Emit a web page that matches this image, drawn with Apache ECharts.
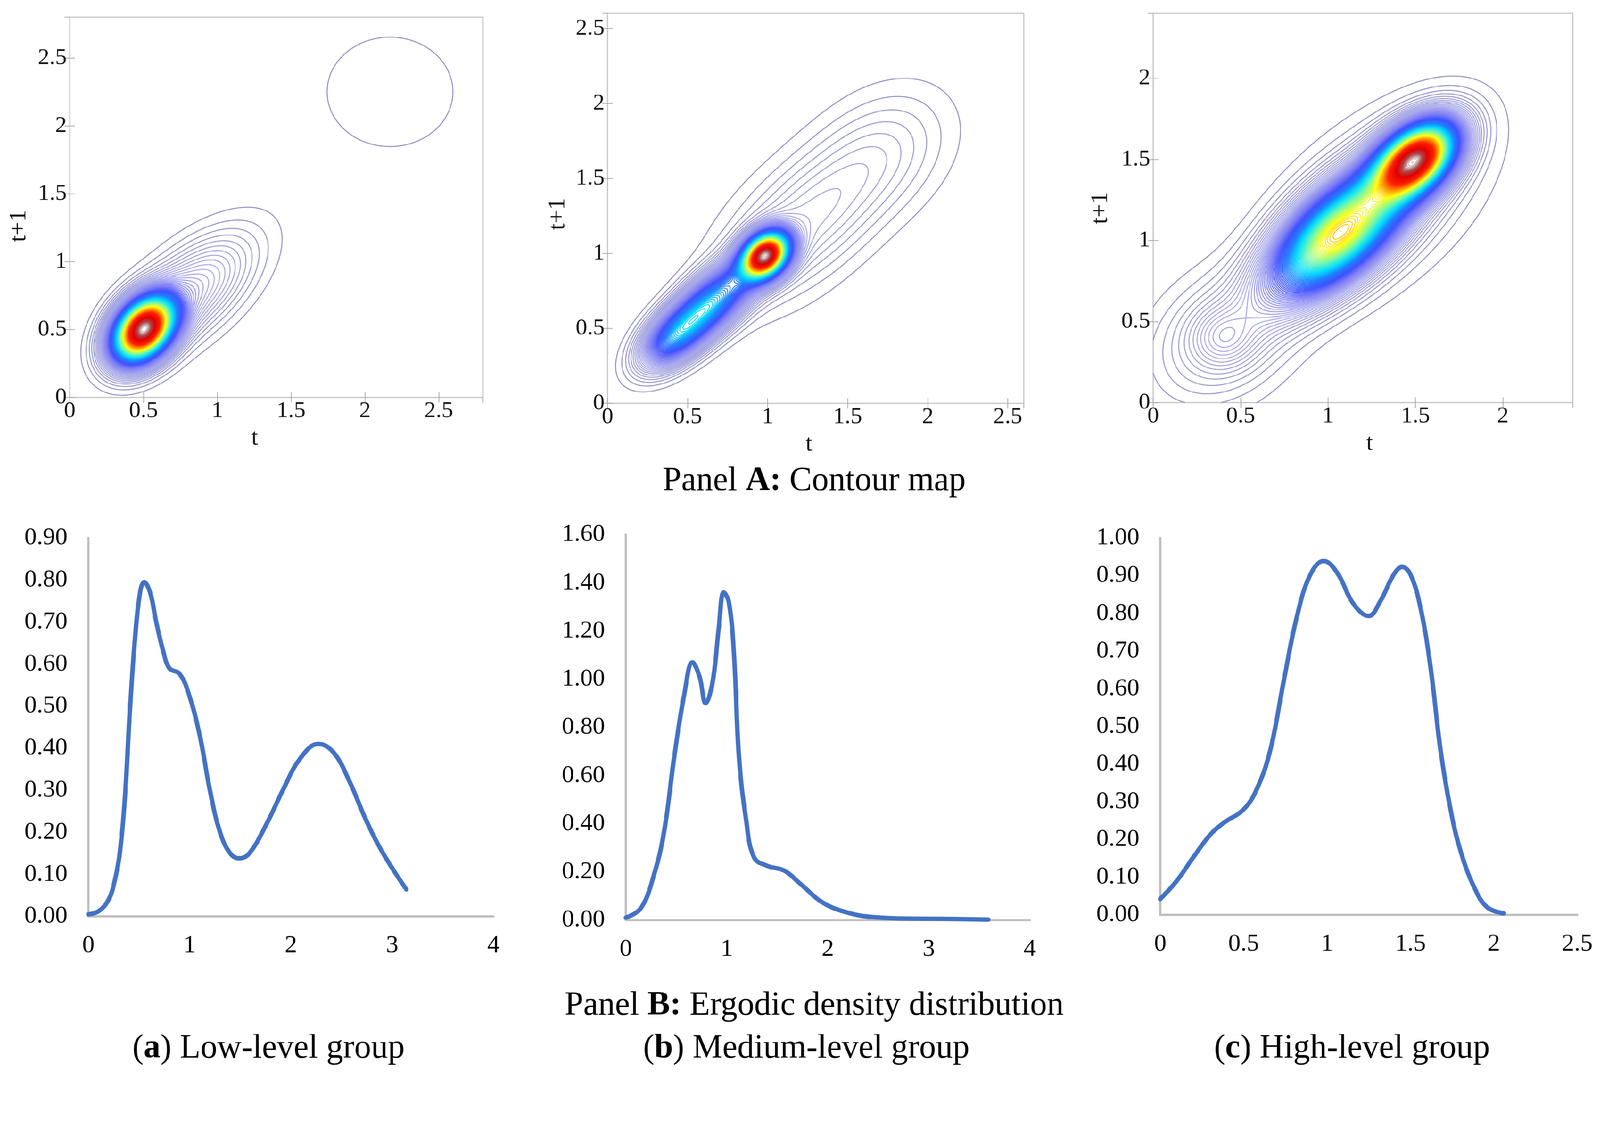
<!DOCTYPE html>
<html><head><meta charset="utf-8">
<script src="https://cdn.jsdelivr.net/npm/echarts@6/dist/echarts.min.js"></script>
<style>html,body{margin:0;padding:0;background:#fff;overflow:hidden}#c{width:4290px;height:2894px;transform-origin:0 0}</style>
</head><body><div id="c"></div>
<script>
// ---------- Panel B: ergodic density curves ----------
const lowX  = [0, 0.1, 0.2, 0.26, 0.31, 0.36, 0.41, 0.46, 0.51, 0.55, 0.61, 0.67, 0.74, 0.8, 0.9, 0.99, 1.1, 1.2, 1.3, 1.4, 1.49, 1.59, 1.76, 1.92, 2.09, 2.27, 2.42, 2.58, 2.74, 2.91, 3.14];
const lowY  = [0.005, 0.012, 0.04, 0.085, 0.15, 0.28, 0.49, 0.66, 0.77, 0.795, 0.77, 0.70, 0.63, 0.59, 0.577, 0.53, 0.43, 0.30, 0.20, 0.15, 0.138, 0.15, 0.22, 0.30, 0.375, 0.41, 0.39, 0.32, 0.23, 0.15, 0.064];
const medX  = [0, 0.15, 0.28, 0.38, 0.48, 0.58, 0.66, 0.73, 0.79, 0.86, 0.92, 0.97, 1.02, 1.07, 1.12, 1.19, 1.27, 1.4, 1.57, 1.73, 1.96, 2.23, 2.46, 2.79, 3.12, 3.59];
const medY  = [0.01, 0.05, 0.19, 0.37, 0.68, 0.94, 1.07, 1.01, 0.90, 0.99, 1.21, 1.36, 1.32, 1.11, 0.68, 0.42, 0.26, 0.225, 0.205, 0.15, 0.07, 0.027, 0.012, 0.006, 0.005, 0.002];
const highX = [0, 0.10, 0.20, 0.30, 0.38, 0.50, 0.58, 0.66, 0.74, 0.82, 0.90, 0.98, 1.06, 1.16, 1.25, 1.32, 1.40, 1.45, 1.50, 1.56, 1.62, 1.68, 1.74, 1.80, 1.88, 1.96, 2.06];
const highY = [0.042, 0.091, 0.154, 0.213, 0.244, 0.28, 0.335, 0.438, 0.62, 0.793, 0.903, 0.939, 0.908, 0.824, 0.793, 0.833, 0.903, 0.923, 0.903, 0.815, 0.658, 0.438, 0.28, 0.17, 0.075, 0.02, 0.004];

// axis extents / ticks of panel B
const lowYMax = 0.9,  lowYStep = 0.1,  lowXMax = 4, lowXStep = 1;
const medYMax = 1.6,  medYStep = 0.2,  medXMax = 4, medXStep = 1;
const highYMax = 1.0, highYStep = 0.1, highXMax = 2.5, highXStep = 0.5;

// ---------- Panel A: density surface components read from the contour maps ----------
// each: [meanX, meanY, sdX, sdY, correlation, peakHeight]
const lowComponents = [
  [0.50, 0.50, 0.135, 0.155, 0.35, 1.00],
  [0.82, 0.78, 0.27, 0.27, 0.60, 0.13],
  [2.17, 2.25, 0.55, 0.52, 0.00, 0.0135]
];
const medComponents = [
  [0.985, 0.985, 0.095, 0.10, 0.30, 1.00],
  [0.63, 0.65, 0.19, 0.19, 0.72, 0.42],
  [0.40, 0.43, 0.13, 0.13, 0.50, 0.22],
  [1.22, 1.20, 0.335, 0.335, 0.57, 0.08],
  [1.72, 1.68, 0.28, 0.28, 0.30, 0.04]
];
const highComponents = [
  [1.50, 1.50, 0.15, 0.15, 0.45, 1.00],
  [1.06, 1.04, 0.25, 0.25, 0.64, 0.70],
  [1.30, 1.25, 0.367, 0.367, 0.50, 0.06],
  [0.40, 0.40, 0.12, 0.12, 0.00, 0.06],
  [0.40, 0.40, 0.26, 0.26, 0.30, 0.07]
];
const contourExtent = [2.8, 2.6, 2.4];   // axis max of the three maps
const contourStep = [0.01, 0.01, 0.01];  // contour level spacing
const contourTick = 0.5;

// ---------- colour map for contour levels ----------
const cmapStops = [
  [0.00, '#8a8ac0'], [0.10, '#a8a8ec'], [0.18, '#8080f4'], [0.25, '#4050ff'],
  [0.33, '#2080ff'], [0.41, '#00dcff'], [0.50, '#70f8b0'], [0.60, '#ffff10'],
  [0.68, '#ff9400'], [0.76, '#ff2000'], [0.88, '#e00000'], [0.95, '#a84848'], [1.00, '#d8cccc']
];
function hex2rgb(h){return [parseInt(h.substr(1,2),16),parseInt(h.substr(3,2),16),parseInt(h.substr(5,2),16)];}
function cmap(t){
  t = Math.max(0, Math.min(1, t));
  for (let k = 1; k < cmapStops.length; k++) {
    if (t <= cmapStops[k][0]) {
      const a = cmapStops[k-1], b = cmapStops[k];
      const u = (t - a[0]) / (b[0] - a[0]);
      const ca = hex2rgb(a[1]), cb = hex2rgb(b[1]);
      return 'rgb(' + ca.map((v,i)=>Math.round(v + (cb[i]-v)*u)).join(',') + ')';
    }
  }
  return cmapStops[cmapStops.length-1][1];
}

function density(comps, x, y) {
  let s = 0;
  for (const c of comps) {
    const dx = (x - c[0]) / c[2], dy = (y - c[1]) / c[3], r = c[4];
    const q = (dx*dx - 2*r*dx*dy + dy*dy) / (1 - r*r);
    s += c[5] * Math.exp(-0.5 * q);
  }
  return s;
}

// marching squares -> chained polylines
function contourLines(comps, extent, step, n) {
  const W = n + 1, d = extent / n;
  const f = new Float64Array(W * W);
  let fmax = 0;
  for (let j = 0; j <= n; j++) for (let i = 0; i <= n; i++) {
    const v = density(comps, i * d, j * d);
    f[j*W+i] = v; if (v > fmax) fmax = v;
  }
  const out = [];
  for (let L = step; L < fmax; L += step) {
    const pts = new Map(), adj = new Map();
    const pt = (key) => {
      if (pts.has(key)) return;
      const base = key >> 1, i = base % W, j = (base - i) / W;
      if ((key & 1) === 0) {
        const a = f[j*W+i], b = f[j*W+i+1];
        pts.set(key, [(i + (L-a)/(b-a)) * d, j * d]);
      } else {
        const a = f[j*W+i], b = f[(j+1)*W+i];
        pts.set(key, [i * d, (j + (L-a)/(b-a)) * d]);
      }
    };
    const seg = (e1, e2) => {
      pt(e1); pt(e2);
      if (!adj.has(e1)) adj.set(e1, []); if (!adj.has(e2)) adj.set(e2, []);
      adj.get(e1).push(e2); adj.get(e2).push(e1);
    };
    for (let j = 0; j < n; j++) for (let i = 0; i < n; i++) {
      const a = f[j*W+i], b = f[j*W+i+1], c = f[(j+1)*W+i+1], dd = f[(j+1)*W+i];
      const code = (a>=L?1:0) | (b>=L?2:0) | (c>=L?4:0) | (dd>=L?8:0);
      if (code === 0 || code === 15) continue;
      const B = (j*W+i)*2, T = ((j+1)*W+i)*2, Lf = (j*W+i)*2+1, R = (j*W+i+1)*2+1;
      switch (code) {
        case 1: case 14: seg(B, Lf); break;
        case 2: case 13: seg(B, R); break;
        case 3: case 12: seg(Lf, R); break;
        case 4: case 11: seg(R, T); break;
        case 6: case 9: seg(B, T); break;
        case 7: case 8: seg(Lf, T); break;
        case 5: { const m = (a+b+c+dd)/4;
          if (m >= L) { seg(B, R); seg(Lf, T); } else { seg(Lf, B); seg(T, R); } break; }
        case 10: { const m = (a+b+c+dd)/4;
          if (m >= L) { seg(Lf, B); seg(T, R); } else { seg(B, R); seg(Lf, T); } break; }
      }
    }
    const visited = new Set();
    const walk = (start) => {
      const line = [pts.get(start)]; visited.add(start);
      let cur = start;
      for (;;) {
        const nb = adj.get(cur); let next = null;
        for (const k of nb) if (!visited.has(k)) { next = k; break; }
        if (next === null) { if (nb.includes(start) && line.length > 2) line.push(pts.get(start)); break; }
        visited.add(next); line.push(pts.get(next)); cur = next;
      }
      return line;
    };
    const color = cmap(L / fmax);
    for (const [k, nb] of adj) if (nb.length === 1 && !visited.has(k)) out.push({coords: walk(k), lineStyle: {color}});
    for (const [k] of adj) if (!visited.has(k)) out.push({coords: walk(k), lineStyle: {color}});
  }
  return out;
}

// fit the 4290x2894 design into the actual viewport
const el = document.getElementById('c');
const fit = Math.min(window.innerWidth / 4290, window.innerHeight / 2894);
if (fit > 0 && Math.abs(fit - 1) > 0.002) el.style.transform = 'scale(' + fit + ')';

const chart = echarts.init(el, null, {renderer: 'canvas'});
const serif = '"Liberation Serif", "Times New Roman", serif';

const contourGrids = [
  {left: 187,  top: 46, width: 1108, height: 1020},
  {left: 1629, top: 36, width: 1116, height: 1046},
  {left: 3092, top: 36, width: 1125, height: 1044}
];
const curveGrids = [
  {left: 237,  top: 1443, width: 1086, height: 1015},
  {left: 1678, top: 1434, width: 1083, height: 1034},
  {left: 3111, top: 1443, width: 1118, height: 1011}
];
const yNameGap = [104, 101, 109];
const yNamePad = [[0, 100, 0, 0], [0, 30, 0, 0], [0, 0, 0, 0]];
const xNamePad = [[0, 116, 0, 0], [0, 36, 0, 0], [0, 0, 0, 36]];

const grid = [], xAxis = [], yAxis = [], series = [];
const halfFmt = v => (Math.abs(v / contourTick - Math.round(v / contourTick)) < 1e-6 ? String(+v.toFixed(2)) : '');
const compsAll = [lowComponents, medComponents, highComponents];
for (let p = 0; p < 3; p++) {
  grid.push(Object.assign({show: true, borderColor: '#c4c4c4', borderWidth: 3, backgroundColor: 'transparent'}, contourGrids[p]));
  const ext = contourExtent[p];
  const tick = {show: true, inside: true, length: 14, lineStyle: {color: '#a8a8a8', width: 2}};
  xAxis.push({gridIndex: p, type: 'value', min: 0, max: ext, interval: contourTick, position: 'bottom',
    axisLine: {show: false}, axisTick: tick, splitLine: {show: false},
    axisLabel: {fontFamily: serif, fontSize: 62, color: '#111', margin: 6, formatter: halfFmt, showMaxLabel: false},
    name: 't', nameLocation: 'middle', nameGap: 78,
    nameTextStyle: {fontFamily: serif, fontSize: 64, color: '#111', padding: xNamePad[p]}});
  xAxis.push({gridIndex: p, type: 'value', min: 0, max: ext, interval: contourTick, position: 'top',
    axisLine: {show: false}, axisTick: tick, splitLine: {show: false}, axisLabel: {show: false}});
  yAxis.push({gridIndex: p, type: 'value', min: 0, max: ext, interval: contourTick, position: 'left',
    axisLine: {show: false}, axisTick: tick, splitLine: {show: false},
    axisLabel: {fontFamily: serif, fontSize: 62, color: '#111', margin: 8, formatter: halfFmt, showMaxLabel: false},
    name: 't+1', nameLocation: 'middle', nameGap: yNameGap[p],
    nameTextStyle: {fontFamily: serif, fontSize: 64, color: '#111', padding: yNamePad[p]}});
  yAxis.push({gridIndex: p, type: 'value', min: 0, max: ext, interval: contourTick, position: 'right',
    axisLine: {show: false}, axisTick: tick, splitLine: {show: false}, axisLabel: {show: false}});
  series.push({
    type: 'lines', coordinateSystem: 'cartesian2d', xAxisIndex: 2*p, yAxisIndex: 2*p, polyline: true,
    silent: true, animation: false, large: false, progressive: 0, progressiveThreshold: 1e9,
    lineStyle: {width: 2.6, opacity: 1}, clip: true,
    data: contourLines(compsAll[p], ext, contourStep[p], 380)
  });
}

const curveSets = [
  {x: lowX, y: lowY, xMax: lowXMax, xStep: lowXStep, yMax: lowYMax, yStep: lowYStep},
  {x: medX, y: medY, xMax: medXMax, xStep: medXStep, yMax: medYMax, yStep: medYStep},
  {x: highX, y: highY, xMax: highXMax, xStep: highXStep, yMax: highYMax, yStep: highYStep}
];
for (let p = 0; p < 3; p++) {
  const g = 3 + p, cs = curveSets[p];
  grid.push(Object.assign({show: false}, curveGrids[p]));
  xAxis.push({gridIndex: g, type: 'value', min: 0, max: cs.xMax, interval: cs.xStep,
    axisLine: {show: true, onZero: false, lineStyle: {color: '#bfbfbf', width: 6}}, axisTick: {show: false}, splitLine: {show: false},
    axisLabel: {fontFamily: serif, fontSize: 66, color: '#000', margin: 46, formatter: v => String(+v.toFixed(2))}});
  yAxis.push({gridIndex: g, type: 'value', min: 0, max: cs.yMax, interval: cs.yStep,
    axisLine: {show: true, lineStyle: {color: '#bfbfbf', width: 6}}, axisTick: {show: false}, splitLine: {show: false},
    axisLabel: {fontFamily: serif, fontSize: 66, color: '#000', margin: 56, formatter: v => v.toFixed(2)}});
  series.push({
    type: 'line', xAxisIndex: xAxis.length - 1, yAxisIndex: yAxis.length - 1,
    data: cs.x.map((v, i) => [v, cs.y[i]]), smooth: 0.4, showSymbol: false, symbol: 'none',
    lineStyle: {color: '#4472C4', width: 12, cap: 'round', join: 'round'}, animation: false, silent: true
  });
}

const cap = (x, y, text) => ({type: 'text', x, y, silent: true, style: {
  text, fill: '#000', align: 'center', verticalAlign: 'middle', font: '90px ' + serif,
  rich: {n: {fontFamily: serif, fontSize: 90, fill: '#000'}, b: {fontFamily: serif, fontSize: 90, fontWeight: 'bold', fill: '#000'}}
}});

chart.setOption({
  backgroundColor: '#ffffff',
  animation: false,
  grid, xAxis, yAxis, series,
  graphic: [
    cap(2183, 1291, '{n|Panel }{b|A:}{n| Contour map}'),
    cap(2183, 2698, '{n|Panel }{b|B:}{n| Ergodic density distribution}'),
    cap(720, 2813, '{n|(}{b|a}{n|) Low-level group}'),
    cap(2162, 2813, '{n|(}{b|b}{n|) Medium-level group}'),
    cap(3625, 2813, '{n|(}{b|c}{n|) High-level group}')
  ]
});
</script></body></html>
